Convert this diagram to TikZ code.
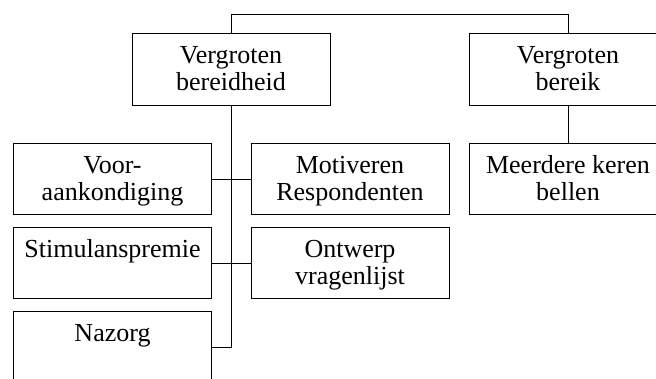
\documentclass[tikz,border=0pt]{standalone}
\usepackage{fontspec}
\setmainfont{Liberation Serif}
\newcommand{\twol}[2]{\begin{tabular}{@{}c@{}}\rule{0pt}{23pt}#1\\\strut#2\end{tabular}}
\tikzset{
  box/.style={draw, line width=1pt, minimum width=198pt, minimum height=71pt,
    inner sep=0pt, font=\fontsize{26}{27}\selectfont},
  link/.style={line width=1pt}
}
\begin{document}
\begin{tikzpicture}[x=1pt,y=-1pt]
\useasboundingbox (0,0) rectangle (656,379);
\clip (0,0) rectangle (656,379);
\node[box, minimum height=72pt] (vb) at (231,70) {\twol{Vergroten}{bereidheid}};
\node[box, minimum height=72pt] (vbk) at (568,70) {\twol{Vergroten}{bereik}};
\node[box] (voor) at (112.5,179.5) {\twol{Voor-}{aankondiging}};
\node[box] (mot) at (350,179.5) {\twol{Motiveren}{Respondenten}};
\node[box] (stim) at (112.5,263.5) {\twol{Stimulanspremie}{}};
\node[box] (ont) at (350,263.5) {\twol{Ontwerp}{vragenlijst}};
\node[box] (naz) at (112.5,347.5) {\twol{Nazorg}{}};
\node[box] (mk) at (568,179.5) {\twol{Meerdere keren}{bellen}};
\coordinate (tl) at (231,15);
\coordinate (tr) at (568,15);
\coordinate (tend) at (231,347.5);
\draw[link] (vb.north) -- (tl) -- (tr) -- (vbk.north);
\draw[link] (vb.south) -- (tend);
\draw[link] (voor.east) -- (mot.west);
\draw[link] (stim.east) -- (ont.west);
\draw[link] (naz.east) -- (tend);
\draw[link] (vbk.south) -- (mk.north);
\end{tikzpicture}
\end{document}
